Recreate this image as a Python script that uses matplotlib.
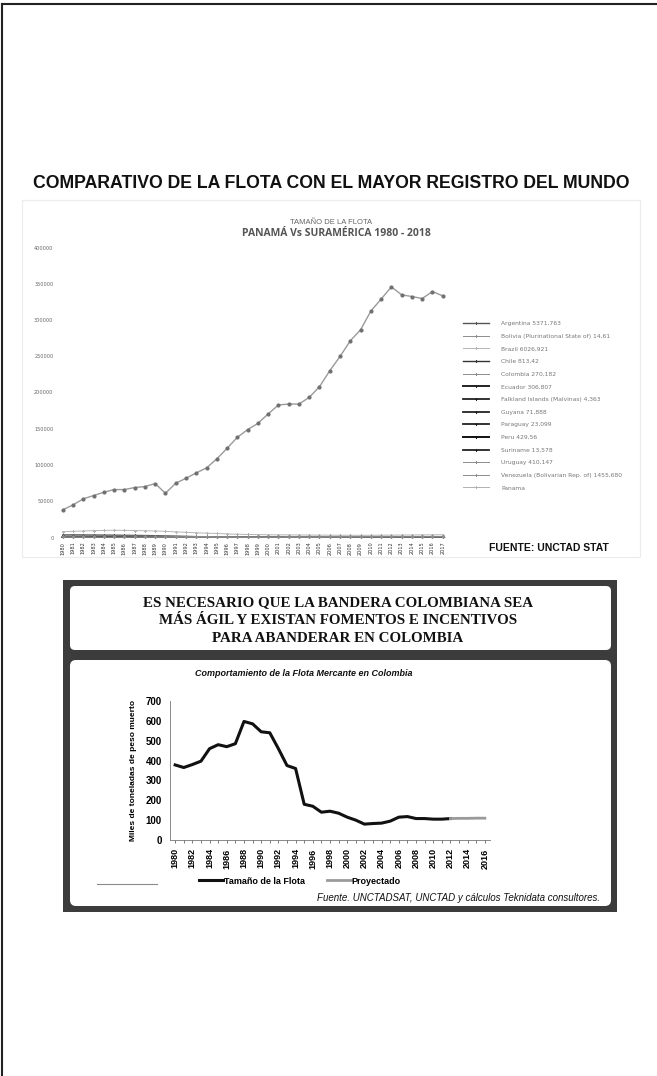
import numpy as np
import matplotlib
matplotlib.use('Agg')
import matplotlib.pyplot as plt
from matplotlib.patches import Rectangle, FancyBboxPatch
from matplotlib.lines import Line2D

W, H = 657, 1076

# ---------------- data: top chart (thousand DWT) ----------------
YEARS_TOP = list(range(1980, 2018))
PANAMA = [38150, 45000, 53300, 57850, 62400, 66100, 66100, 68900, 70250, 74400,
          61000, 74800, 81700, 89100, 96000, 108400, 123000, 138200, 148800, 157400,
          170400, 182800, 184100, 184100, 193300, 208000, 230000, 249700, 271300, 286500,
          312300, 328800, 345700, 334700, 332400, 329600, 339300, 333300]
BRAZIL = [8000, 8500, 9000, 9500, 9800, 10000, 9900, 9600, 9300, 9000,
          8500, 7800, 7200, 6500, 6000, 5600, 5000, 4500, 4200, 4000,
          3800, 3700, 3600, 3500, 3400, 3300, 3200, 3100, 3100, 3000,
          3100, 3200, 3300, 3400, 3500, 3600, 3700, 3800]
ARGENTINA = [3500, 3600, 3500, 3400, 3300, 3200, 3000, 2900, 2700, 2500,
             2200, 1900, 1500, 1200, 1000, 900, 800, 700, 650, 600,
             600, 550, 550, 500, 500, 500, 550, 600, 650, 700,
             750, 800, 850, 900, 950, 1000, 1000, 1000]
VENEZUELA = [1700, 1800, 1900, 2000, 2100, 2100, 2000, 1900, 1800, 1700,
             1600, 1500, 1500, 1400, 1400, 1300, 1300, 1200, 1200, 1200,
             1200, 1200, 1300, 1300, 1300, 1300, 1400, 1400, 1400, 1400,
             1400, 1450, 1450, 1450, 1450, 1450, 1450, 1450]
CHILE = [900, 950, 1000, 1100, 1200, 1200, 1100, 1000, 900, 900,
         850, 800, 800, 750, 750, 700, 700, 700, 700, 700,
         750, 750, 750, 800, 800, 800, 800, 800, 800, 800,
         800, 800, 800, 800, 810, 810, 810, 810]
PERU = [800, 850, 900, 900, 850, 800, 750, 700, 650, 600,
        550, 500, 450, 400, 400, 400, 400, 400, 400, 400,
        400, 400, 400, 400, 400, 410, 410, 410, 420, 420,
        420, 420, 420, 425, 425, 425, 430, 430]
COLOMBIA = [380, 365, 380, 400, 460, 480, 470, 485, 600, 590,
            545, 540, 460, 380, 360, 180, 170, 140, 145, 135,
            115, 100, 80, 85, 85, 95, 115, 118, 108, 108,
            105, 105, 108, 110, 130, 170, 240, 270]
ECUADOR = [400, 420, 440, 450, 450, 440, 430, 420, 410, 400,
           390, 380, 370, 360, 350, 340, 330, 320, 310, 300,
           300, 300, 300, 300, 300, 300, 300, 300, 300, 300,
           300, 300, 300, 300, 305, 305, 306, 306]
URUGUAY = [200, 200, 210, 210, 220, 220, 210, 200, 190, 180,
           170, 160, 150, 140, 130, 120, 110, 100, 100, 100,
           100, 100, 100, 110, 120, 150, 200, 250, 300, 330,
           350, 370, 380, 390, 400, 405, 410, 410]
BOLIVIA = [15, 15, 15, 15, 15, 15, 15, 15, 15, 15, 15, 15, 15, 15, 15, 15, 15, 15, 15,
           15, 15, 15, 15, 15, 15, 15, 15, 15, 15, 15, 15, 15, 15, 15, 15, 15, 15, 15]
FALKLAND = [5, 5, 5, 5, 5, 5, 5, 5, 5, 5, 5, 5, 5, 5, 5, 5, 5, 5, 5,
            5, 5, 5, 5, 5, 5, 5, 5, 5, 5, 5, 5, 5, 5, 5, 5, 5, 5, 5]
GUYANA = [20, 20, 20, 20, 20, 20, 20, 20, 20, 20, 25, 25, 25, 25, 30, 30, 30, 30, 35,
          35, 40, 40, 45, 45, 50, 50, 55, 55, 60, 60, 65, 65, 70, 70, 70, 72, 72, 72]
PARAGUAY = [40, 40, 40, 40, 40, 40, 35, 35, 35, 35, 30, 30, 30, 30, 30, 25, 25, 25, 25,
            25, 25, 25, 25, 25, 25, 25, 25, 25, 23, 23, 23, 23, 23, 23, 23, 23, 23, 23]
SURINAME = [10, 10, 10, 10, 10, 10, 10, 10, 10, 10, 10, 10, 10, 10, 10, 10, 10, 10, 12,
            12, 12, 12, 12, 12, 12, 12, 13, 13, 13, 13, 13, 13, 13, 13, 14, 14, 14, 14]

SERIES = [
    ('Argentina 5371,763', ARGENTINA, '#555555', 1.0),
    ('Bolivia (Plurinational State of) 14,61', BOLIVIA, '#8c8c8c', 0.7),
    ('Brazil 6026,921', BRAZIL, '#b5b5b5', 0.7),
    ('Chile 813,42', CHILE, '#333333', 1.0),
    ('Colombia 270,182', COLOMBIA, '#8c8c8c', 0.7),
    ('Ecuador 306,807', ECUADOR, '#222222', 1.4),
    ('Falkland Islands (Malvinas) 4,363', FALKLAND, '#222222', 1.3),
    ('Guyana 71,888', GUYANA, '#222222', 1.3),
    ('Paraguay 23,099', PARAGUAY, '#222222', 1.3),
    ('Peru 429,56', PERU, '#111111', 1.4),
    ('Suriname 13,578', SURINAME, '#222222', 1.3),
    ('Uruguay 410,147', URUGUAY, '#8c8c8c', 0.7),
    ('Venezuela (Bolivarian Rep. of) 1455,680', VENEZUELA, '#8c8c8c', 0.7),
]
PANAMA_LABEL = 'Panama'
Y_TICKS_TOP = [0, 50000, 100000, 150000, 200000, 250000, 300000, 350000, 400000]

# ---------------- data: bottom chart (miles de toneladas) ----------------
YEARS_FLOTA = list(range(1980, 2013))
FLOTA = [378, 365, 380, 397, 460, 480, 470, 485, 597, 585,
         545, 540, 460, 375, 360, 180, 170, 140, 145, 135,
         115, 100, 80, 83, 85, 95, 115, 118, 108, 108,
         105, 105, 108]
YEARS_PROY = [2012, 2013, 2014, 2015, 2016]
PROYECTADO = [108, 109, 109, 110, 110]
Y_TICKS_BOT = [0, 100, 200, 300, 400, 500, 600, 700]


def box(x0, y0, x1, y1):
    return [x0 / W, 1 - y1 / H, (x1 - x0) / W, (y1 - y0) / H]


fig = plt.figure(figsize=(W / 100, H / 100), dpi=100)
fig.patch.set_facecolor('white')

# background drawing layer in pixel coordinates
bg = fig.add_axes([0, 0, 1, 1], zorder=0)
bg.set_xlim(0, W)
bg.set_ylim(H, 0)
bg.axis('off')

# page border (top and left)
bg.plot([1.5, W], [3.5, 3.5], color='#222222', lw=1.5)
bg.plot([1.5, 1.5], [3.5, H], color='#222222', lw=1.5)

# ---------------- top section ----------------
fig.text(331 / W, 1 - 184 / H,
         'COMPARATIVO DE LA FLOTA CON EL MAYOR REGISTRO DEL MUNDO',
         ha='center', va='center', fontsize=12.7, fontweight='bold',
         family='Liberation Sans', color='#111111')
bg.add_patch(Rectangle((22, 200), 618, 357, fill=False, ec='#ececec', lw=0.8))
fig.text(331 / W, 1 - 222 / H, 'TAMAÑO DE LA FLOTA', ha='center', va='center',
         fontsize=5.5, color='#666666', family='Liberation Sans')
fig.text(336 / W, 1 - 234 / H, 'PANAMÁ Vs SURAMÉRICA 1980 - 2018', ha='center',
         va='center', fontsize=7.5, fontweight='bold', color='#555555',
         family='Open Sans')

ax1 = fig.add_axes(box(57.6, 247.5, 453, 537.5), zorder=1)
ax1.patch.set_alpha(0)
handles = []
for label, vals, col, lw in SERIES:
    ln, = ax1.plot(YEARS_TOP, vals, color=col, lw=lw, marker='P', ms=2.2,
                   mew=0, label=label)
    handles.append(ln)
ax1.plot(YEARS_TOP, PANAMA, color='#9a9a9a', lw=1.0, marker='o', ms=2.0,
         mfc='#707070', mec='#707070', label=PANAMA_LABEL)
handles.append(Line2D([], [], color='#b0b0b0', lw=0.7, marker='P', ms=2.2,
                      mew=0, label=PANAMA_LABEL))
ax1.set_xlim(1979.5, 2018)
ax1.set_ylim(0, 400000)
ax1.set_yticks(Y_TICKS_TOP)
ax1.set_yticklabels([str(v) for v in Y_TICKS_TOP], fontsize=3.6, color='#666666')
ax1.set_xticks(YEARS_TOP)
ax1.set_xticklabels([str(y) for y in YEARS_TOP], rotation=90, fontsize=3.6,
                    color='#333333')
ax1.tick_params(length=0, pad=3)
for sp in ax1.spines.values():
    sp.set_visible(False)
ax1.legend(handles=handles, loc='upper left', bbox_to_anchor=(460 / W, 1 - 318 / H),
           bbox_transform=fig.transFigure, frameon=False, fontsize=4.3,
           labelcolor='#777777', handlelength=4.4, handletextpad=2.0,
           labelspacing=1.25, borderpad=0)

fig.text(549 / W, 1 - 548 / H, 'FUENTE: UNCTAD STAT', ha='center', va='center',
         fontsize=7.5, fontweight='bold', family='Liberation Sans', color='#111111')

# ---------------- bottom section frame ----------------
bg.add_patch(Rectangle((63, 580), 554, 332, color='#3c3c3c', lw=0))
bg.add_patch(FancyBboxPatch((70, 586), 541, 64, boxstyle='round,pad=0,rounding_size=5',
                            fc='white', ec='none'))
bg.add_patch(FancyBboxPatch((70, 660), 541, 246, boxstyle='round,pad=0,rounding_size=6',
                            fc='white', ec='none'))

for i, line in enumerate(['ES NECESARIO QUE LA BANDERA COLOMBIANA SEA',
                          'MÁS ÁGIL Y EXISTAN FOMENTOS E INCENTIVOS',
                          'PARA ABANDERAR EN COLOMBIA']):
    fig.text(338 / W, 1 - (603 + 17.5 * i) / H, line, ha='center', va='center',
             fontsize=10.8, fontweight='bold', family='Liberation Serif',
             color='#111111')

fig.text(304 / W, 1 - 673 / H, 'Comportamiento de la Flota Mercante en Colombia',
         ha='center', va='center', fontsize=6.5, fontweight='bold', style='italic',
         family='Liberation Sans', color='#111111')

ax2 = fig.add_axes(box(170, 701, 490, 840), zorder=1)
ax2.patch.set_alpha(0)
ax2.plot(YEARS_FLOTA, FLOTA, color='#111111', lw=2.2, label='Tamaño de la Flota',
         solid_joinstyle='round')
ax2.plot(YEARS_PROY, PROYECTADO, color='#9a9a9a', lw=2.0, label='Proyectado')
ax2.set_xlim(1979.4, 2016.6)
ax2.set_ylim(0, 700)
ax2.set_yticks(Y_TICKS_BOT)
ax2.set_yticklabels([str(v) for v in Y_TICKS_BOT], fontsize=7, fontweight='bold',
                    family='Liberation Sans')
ax2.set_xticks(list(range(1980, 2017)), minor=True)
ax2.set_xticks(list(range(1980, 2017, 2)))
ax2.set_xticklabels([str(y) for y in range(1980, 2017, 2)], rotation=90,
                    fontsize=6.5, fontweight='bold', family='Liberation Sans')
ax2.tick_params(axis='y', length=0, pad=6)
ax2.tick_params(axis='x', which='both', length=2.5, width=0.6, color='#666666')
for sp in ('top', 'right'):
    ax2.spines[sp].set_visible(False)
ax2.spines['left'].set_color('#777777')
ax2.spines['bottom'].set_color('#777777')
ax2.spines['left'].set_linewidth(0.6)
ax2.spines['bottom'].set_linewidth(0.6)
ax2.set_ylabel('Miles de toneladas de peso muerto', fontsize=6, fontweight='bold',
               family='Liberation Sans', labelpad=6)
ax2.legend(loc='center', bbox_to_anchor=(300 / W, 1 - 881 / H),
           bbox_transform=fig.transFigure, ncol=2, frameon=False,
           prop={'size': 6.5, 'weight': 'bold', 'family': 'Liberation Sans'},
           handlelength=2.6, handletextpad=0.1, columnspacing=2.5)

bg.plot([97, 157], [884, 884], color='#8a8a8a', lw=0.8)
fig.text(600 / W, 1 - 898 / H,
         'Fuente. UNCTADSAT, UNCTAD y cálculos Teknidata consultores.',
         ha='right', va='center', fontsize=7, style='italic',
         family='Liberation Sans', color='#111111')

fig.savefig('out.png', dpi=100, facecolor='white')
